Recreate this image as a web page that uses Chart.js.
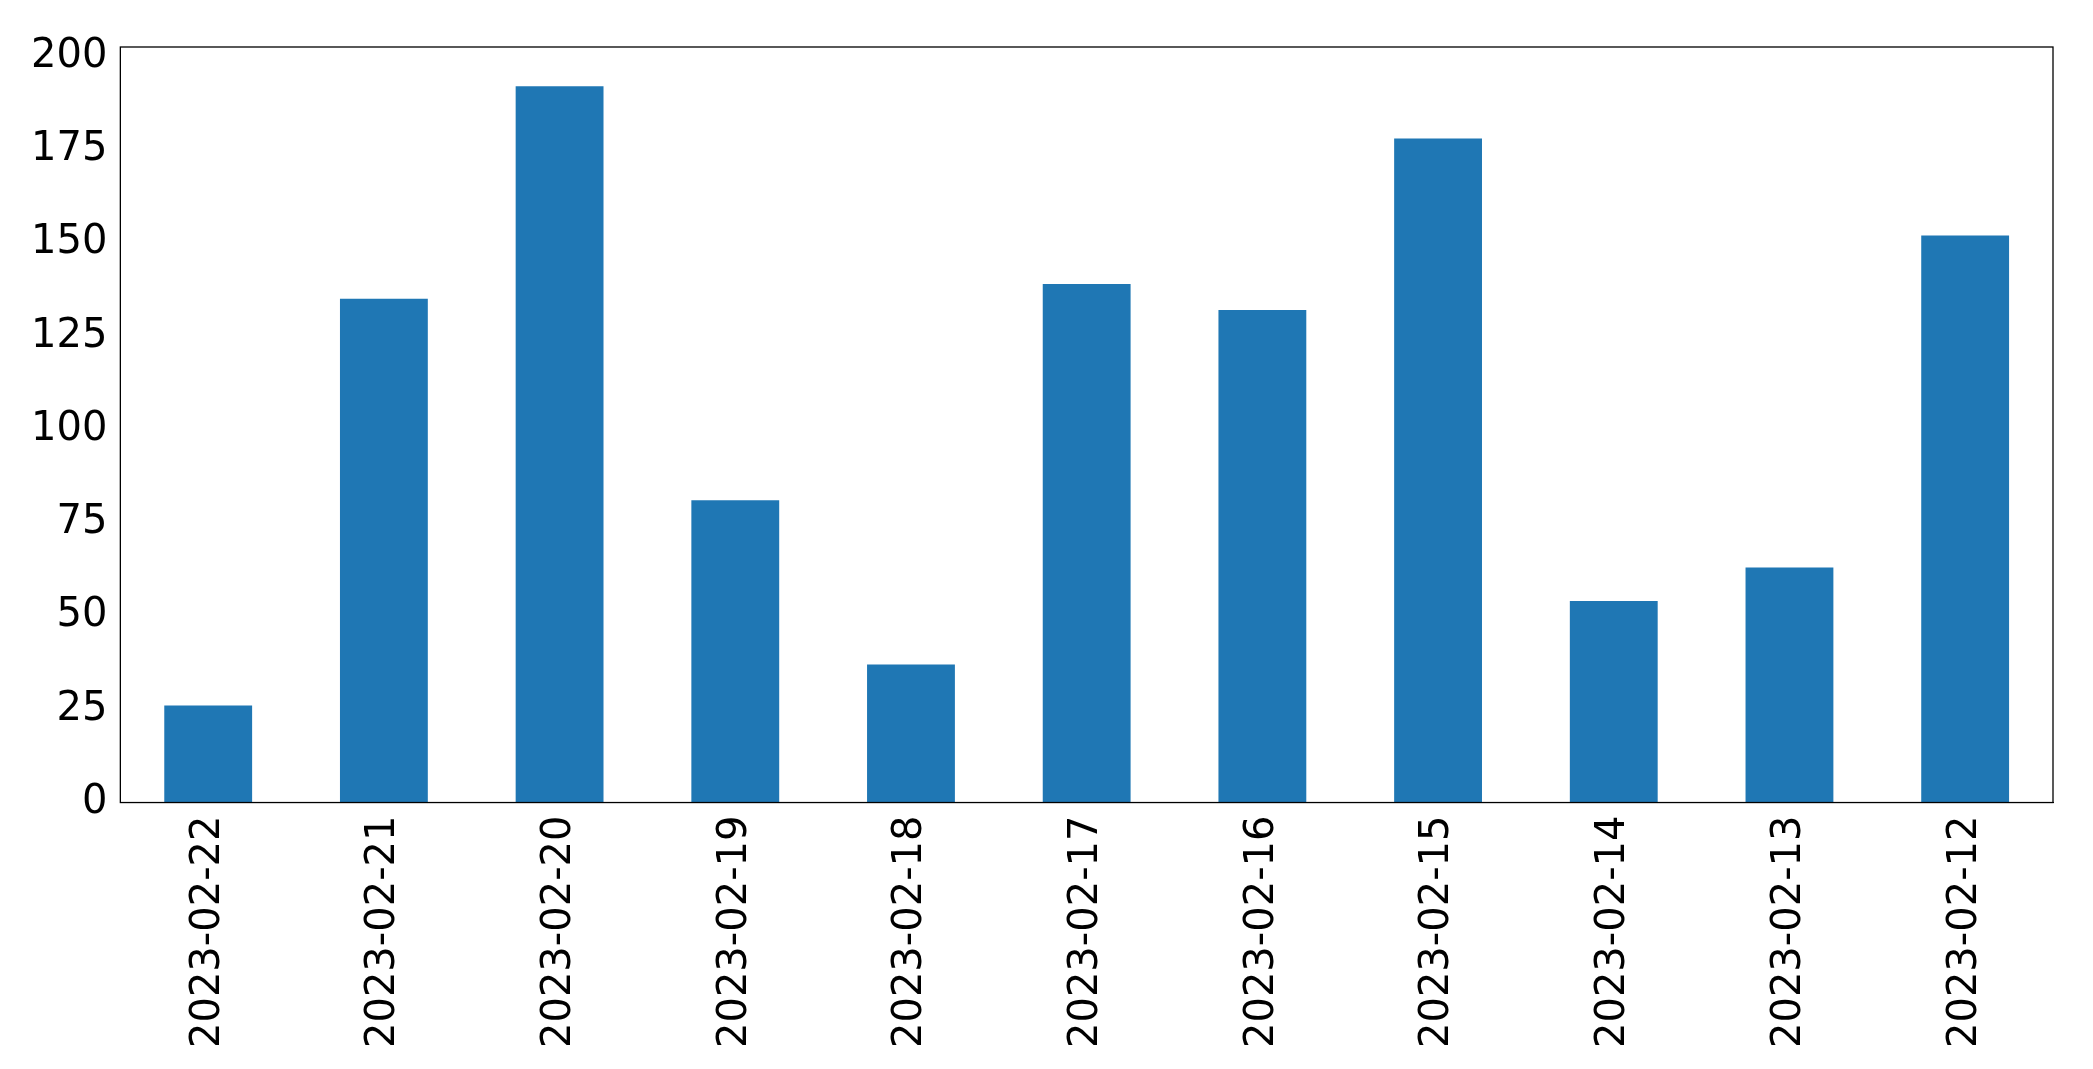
<!DOCTYPE html>
<html><head><script src="https://cdn.jsdelivr.net/npm/chart.js@4/dist/chart.umd.min.js"></script>
<style>body{margin:0;background:#fff}#w{width:2093px;height:1069px}</style></head>
<body><div id="w"><canvas id="c"></canvas></div>
<script>
const categories=["2023-02-22","2023-02-21","2023-02-20","2023-02-19","2023-02-18","2023-02-17","2023-02-16","2023-02-15","2023-02-14","2023-02-13","2023-02-12"];
const values=[26,135,192,81,37,139,132,178,54,63,152];
const yTicks=[0,25,50,75,100,125,150,175,200];
const frame={id:'frame',afterDraw(ch){const a=ch.chartArea,c=ch.ctx;c.save();c.strokeStyle='#000';c.lineWidth=1.3;c.strokeRect(a.left,a.top,a.right-a.left,a.bottom-a.top);c.restore();}};
new Chart(document.getElementById('c'),{type:'bar',
data:{labels:categories,datasets:[{data:values,backgroundColor:'#1f77b4',barPercentage:0.5,categoryPercentage:1}]},
options:{responsive:true,maintainAspectRatio:false,animation:false,
layout:{padding:{left:28,right:40,top:47,bottom:18}},
plugins:{legend:{display:false},tooltip:{enabled:false}},
scales:{
x:{offset:true,grid:{display:false,drawTicks:true,tickLength:10,tickColor:'#000'},border:{color:'#000'},
ticks:{color:'#000',maxRotation:90,minRotation:90,autoSkip:false,font:{family:'DejaVu Sans',size:40}}},
y:{min:0,max:202.5,grid:{display:false,drawTicks:true,tickLength:10,tickColor:'#000'},border:{color:'#000'},
afterBuildTicks:s=>{s.ticks=yTicks.map(v=>({value:v}));},
ticks:{color:'#000',font:{family:'DejaVu Sans',size:40}}}}},
plugins:[frame]});
</script></body></html>
